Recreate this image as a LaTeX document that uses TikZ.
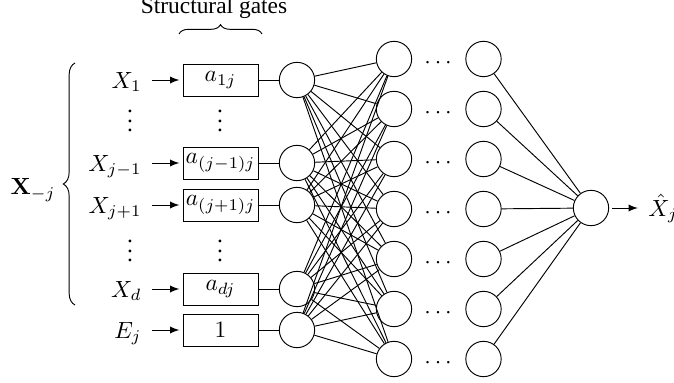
\documentclass[tikz,border=0pt]{standalone}
\usepackage{amsmath}
\usepackage{amssymb}
\usepackage[no-math]{fontspec}
\setmainfont{Liberation Serif}
\usetikzlibrary{decorations.pathreplacing}

\begin{document}
\begin{tikzpicture}[x=0.015cm,y=-0.015cm,>=latex]
\tikzstyle{every node}+=[inner sep=0pt]
\tikzstyle{neuron}=[draw,circle,minimum size=0.53cm]
\tikzstyle{gatebox}=[draw,rectangle,minimum width=1.125cm,minimum height=0.48cm]
\tikzstyle{varlabel}=[text height=7pt,text depth=0pt]
\useasboundingbox (0,0) rectangle (674,383);
\node [anchor=base] (title) at (214,14) {Structural gates};
\draw [decorate,decoration={brace,amplitude=4pt}] (179,34) -- (262,34);
\draw [decorate,decoration={brace,amplitude=5pt}] (75,305) -- (75,63);
\node (xmj) at (33,190) {$\mathbf{X}_{-j}$};
\foreach \i/\y/\xl/\al in {1/80/X_1/a_{1j},2/163/X_{j-1}/a_{(j-1)j},3/205/X_{j+1}/a_{(j+1)j},4/289/X_d/a_{dj},5/330/E_j/1}
{
\node [varlabel,anchor=east] (x\i) at (142,\y) {$\xl$};
\node [gatebox] (g\i) at (220.5,\y) {$\al$};
\node [neuron] (h\i) at (297,\y) {};
\draw [->,shorten <=4.3pt,shorten >=1.3pt] (x\i) -- (g\i);
\draw (g\i) -- (h\i);
}
\node (vd1) at (130,114) {$\vdots$};
\node (vd2) at (220,114) {$\vdots$};
\node (vd3) at (130,244) {$\vdots$};
\node (vd4) at (220,244) {$\vdots$};
\foreach \k in {1,...,7}
{
\node [neuron] (m\k) at (394,9+50*\k) {};
\node (d\k) at (440,13+50*\k) {$\cdots$};
\node [neuron] (n\k) at (483.5,9+50*\k) {};
}
\node [neuron] (out) at (591,208) {};
\node [varlabel,anchor=west] (xhat) at (648,208) {$\hat{X}_j$};
\foreach \i in {1,...,5}
\foreach \k in {1,...,7}
\draw (h\i) -- (m\k);
\foreach \k in {1,...,7}
\draw (n\k) -- (out);
\draw [->,shorten <=1.3pt,shorten >=4.3pt] (out) -- (xhat);
\end{tikzpicture}
\end{document}
